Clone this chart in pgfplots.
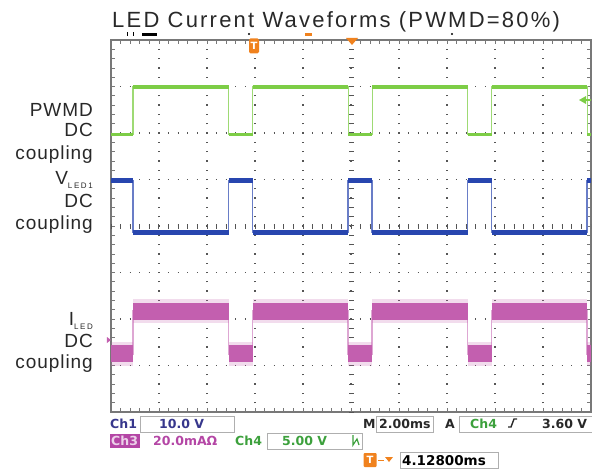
\documentclass[border=0pt]{standalone}
\usepackage{pgfplots}
\usepackage{pgfplotstable}
\pgfplotsset{compat=1.18}
\usepackage{fontspec}
\setmainfont{Liberation Sans}
\newfontfamily\ttlfont[LetterSpace=10]{Liberation Sans}
\newfontfamily\lblfont[LetterSpace=5]{Liberation Sans}
\newfontfamily\subfont[LetterSpace=20]{Liberation Sans}
\newfontfamily\scopefont{DejaVu Sans}

\definecolor{pwm}{RGB}{125,205,70}
\definecolor{vled}{RGB}{40,70,175}
\definecolor{iled}{RGB}{195,95,175}
\definecolor{gridc}{RGB}{85,85,85}
\definecolor{frame}{RGB}{120,120,120}
\definecolor{txt}{RGB}{40,40,40}
\definecolor{ch1}{RGB}{55,55,140}
\definecolor{ch4}{RGB}{60,160,60}
\definecolor{ch3}{RGB}{180,70,165}
\definecolor{trig}{RGB}{240,130,30}
\definecolor{boxc}{RGB}{175,175,175}

% screen units: 1 = one division (2 ms horizontally)
% connected traces, with the edges
\pgfplotstableread{
x     pwm   vled  iled
0     5.97  4.97  1.25
0.46  5.97  4.97  1.25
0.46  6.99  3.87  2.17
2.45  6.99  3.87  2.17
2.45  5.97  4.97  1.25
2.95  5.97  4.97  1.25
2.95  6.99  3.87  2.17
4.94  6.99  3.87  2.17
4.94  5.97  4.97  1.25
5.44  5.97  4.97  1.25
5.44  6.99  3.87  2.17
7.43  6.99  3.87  2.17
7.43  5.97  4.97  1.25
7.93  5.97  4.97  1.25
7.93  6.99  3.87  2.17
9.92  6.99  3.87  2.17
9.92  5.97  4.97  1.25
10    5.97  4.97  1.25
}\edges

% the flat levels only (broken at every edge)
\pgfplotstableread{
x     pwm   vled  iled
0     5.97  4.97  1.25
0.46  5.97  4.97  1.25
0.46  nan   nan   nan
0.46  6.99  3.87  2.17
2.45  6.99  3.87  2.17
2.45  nan   nan   nan
2.45  5.97  4.97  1.25
2.95  5.97  4.97  1.25
2.95  nan   nan   nan
2.95  6.99  3.87  2.17
4.94  6.99  3.87  2.17
4.94  nan   nan   nan
4.94  5.97  4.97  1.25
5.44  5.97  4.97  1.25
5.44  nan   nan   nan
5.44  6.99  3.87  2.17
7.43  6.99  3.87  2.17
7.43  nan   nan   nan
7.43  5.97  4.97  1.25
7.93  5.97  4.97  1.25
7.93  nan   nan   nan
7.93  6.99  3.87  2.17
9.92  6.99  3.87  2.17
9.92  nan   nan   nan
9.92  5.97  4.97  1.25
10    5.97  4.97  1.25
}\levels

\begin{document}
\begin{tikzpicture}[every node/.style={inner sep=0pt}]
\useasboundingbox (-111pt,-57pt) rectangle (481pt,412pt);
\begin{axis}[
  at={(0,0)}, anchor=south west,
  scale only axis, width=480pt, height=372pt,
  xmin=0, xmax=10, ymin=0, ymax=8,
  xtick={0,...,10}, ytick={0,...,8},
  xticklabels={}, yticklabels={},
  minor x tick num=4, minor y tick num=4,
  tick align=inside, tick pos=both,
  major tick length=4pt, minor tick length=4pt,
  every tick/.style={draw=frame, line width=0.8pt},
  axis line style={draw=frame, line width=1.2pt},
  grid=major,
  x grid style={draw=gridc, line width=1.3pt, dash pattern=on 1.3pt off 8pt, dash phase=0.65pt},
  y grid style={draw=gridc, line width=1.3pt, dash pattern=on 1.3pt off 8.3pt, dash phase=0.65pt},
  unbounded coords=jump,
]
% centre-line ticks
\draw[gridc, line width=5pt, dash pattern=on 1pt off 8.6pt, dash phase=0.5pt] (axis cs:0,4) -- (axis cs:10,4);
\draw[gridc, line width=5pt, dash pattern=on 1pt off 8.3pt, dash phase=0.5pt] (axis cs:5,0) -- (axis cs:5,8);

% PWMD
\addplot[pwm!75!white, line width=1.2pt] table[y=pwm] {\edges};
\addplot[pwm, line width=3.5pt] table[y=pwm] {\levels};
% V_LED1
\addplot[vled!70!white, line width=1.4pt] table[y=vled] {\edges};
\addplot[vled, line width=5pt] table[y=vled] {\levels};
% I_LED
\addplot[iled!55!white, line width=1.4pt] table[y=iled] {\edges};
\addplot[iled, opacity=0.22, line width=24pt] table[y=iled] {\levels};
\addplot[iled, line width=17pt] table[y=iled] {\levels};
\end{axis}

% title
\node[anchor=base west, text=txt, font=\ttlfont\fontsize{22}{22}\selectfont] at (1pt,384pt) {LED Current Waveforms (PWMD=80\%)};

% channel labels
\begin{scope}[every node/.style={anchor=base east, text=txt, inner sep=0pt, font=\lblfont\fontsize{19}{19}\selectfont}]
\node at (-18pt,295pt) {PWMD};
\node at (-18pt,275pt) {DC};
\node at (-18pt,252pt) {coupling};
\node at (-18pt,227pt) {V\raisebox{-4pt}{\subfont\fontsize{8}{8}\selectfont LED1}};
\node at (-18pt,204pt) {DC};
\node at (-18pt,182pt) {coupling};
\node at (-18pt,86pt) {I\raisebox{-4pt}{\subfont\fontsize{8}{8}\selectfont LED}};
\node at (-18pt,65pt) {DC};
\node at (-18pt,44pt) {coupling};
\end{scope}

% top markers
\fill[black] (31pt,376pt) rectangle (46pt,379pt);
\fill[black] (16.5pt,376pt) rectangle (17.5pt,380pt);
\fill[black] (22.5pt,376pt) rectangle (23.5pt,380pt);
\fill[black] (138pt,378pt) circle (1.2pt);
\fill[black] (341pt,378pt) circle (1.2pt);
\fill[trig] (194pt,376pt) rectangle (201pt,379pt);
\fill[trig] (235pt,374pt) -- (247pt,374pt) -- (241pt,367pt) -- cycle;
\node[fill=trig, rounded corners=1.5pt, text=white, minimum width=10pt, minimum height=15pt,
  font=\scopefont\bfseries\fontsize{10}{10}\selectfont] at (143pt,366pt) {T};
% level markers
\fill[pwm] (468pt,312pt) -- (475pt,316pt) -- (475pt,308pt) -- cycle;
\draw[pwm, line width=1.5pt] (474pt,312pt) -- (480pt,312pt);
\fill[iled] (-4pt,75pt) -- (0pt,72pt) -- (-4pt,69pt) -- cycle;

% read-out
\begin{scope}[every node/.style={anchor=base west, inner sep=0pt, font=\scopefont\bfseries\fontsize{12.5}{12.5}\selectfont}]
\draw[boxc, line width=0.8pt] (29pt,-4pt) rectangle (123pt,-20pt);
\node[text=ch1] at (-1pt,-16pt) {Ch1};
\node[text=ch1] at (48pt,-16pt) {10.0 V};
\node[text=txt] at (252pt,-16pt) {M};
\draw[boxc, line width=0.8pt] (265pt,-4pt) rectangle (322pt,-20pt);
\node[text=txt] at (268pt,-16pt) {2.00ms};
\node[text=txt] at (334pt,-16pt) {A};
\draw[boxc, line width=0.8pt] (348pt,-4pt) rectangle (486pt,-20pt);
\node[text=ch4] at (359pt,-16pt) {Ch4};
\draw[txt, line width=1.4pt] (397pt,-15pt) -- (400pt,-15pt) -- (403pt,-7pt) -- (406pt,-7pt);
\node[text=txt] at (431pt,-16pt) {3.60 V};

\fill[ch3] (-1pt,-22pt) rectangle (29pt,-36pt);
\node[text=ch3!25!white] at (0pt,-33pt) {Ch3};
\node[text=ch3] at (42pt,-33pt) {20.0mAΩ};
\node[text=ch4] at (124pt,-33pt) {Ch4};
\draw[boxc, line width=0.8pt] (156pt,-21pt) rectangle (251pt,-37pt);
\node[text=ch4] at (171pt,-33pt) {5.00 V};
\draw[ch4, line width=1.2pt] (242pt,-23pt) -- (242pt,-33pt) -- (246pt,-27pt) -- (248pt,-33pt);

\node[anchor=center, fill=trig, rounded corners=1pt, text=white, minimum width=13pt, minimum height=14pt,
  font=\scopefont\bfseries\fontsize{10}{10}\selectfont] at (259pt,-48pt) {T};
\draw[trig, line width=1pt] (267pt,-48pt) -- (273pt,-48pt);
\fill[trig] (274pt,-45pt) -- (282pt,-45pt) -- (278pt,-50pt) -- cycle;
\draw[boxc, line width=0.8pt] (289pt,-40pt) rectangle (387pt,-56pt);
\node[text=black, font=\scopefont\bfseries\fontsize{13.5}{13.5}\selectfont] at (291pt,-53pt) {4.12800ms};
\end{scope}
\end{tikzpicture}
\end{document}
